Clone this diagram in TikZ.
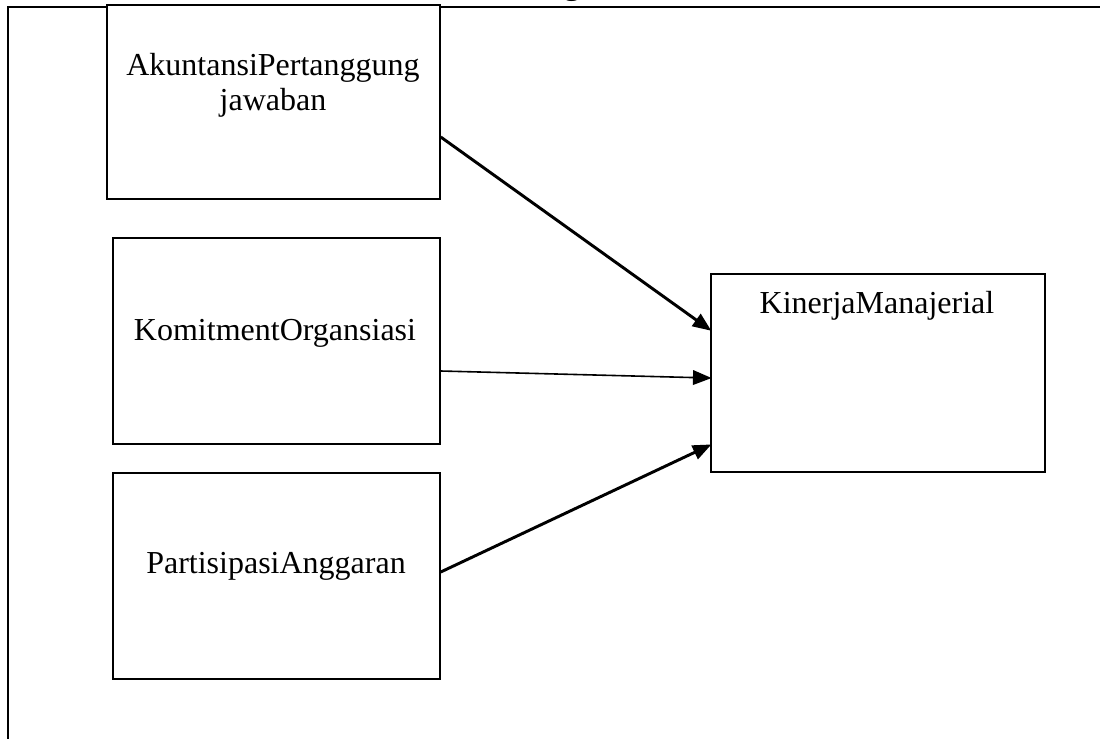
\documentclass[tikz,border=0pt]{standalone}
\usepackage{fontspec}
\setmainfont{Liberation Serif}
\usetikzlibrary{arrows.meta}
\tikzset{
  kotak/.style={draw, line width=1.1pt, minimum width=#1, inner sep=0pt},
  teks/.style={anchor=base, font=\fontsize{24pt}{28pt}\selectfont, inner sep=0pt},
  panah/.style={line width=2.2pt, -{Triangle[length=14pt, width=11pt]}, shorten >=-1pt}
}
\begin{document}
\begin{tikzpicture}[x=0.75pt, y=-0.75pt]
\useasboundingbox (0,0) rectangle (1100,739);
\draw[line width=1.2pt] (8,739) -- (8,7) -- (1100,7);
\node[teks, font=\fontsize{24pt}{28pt}\selectfont\bfseries] (judul) at (572,-5.5) {g};
\node[kotak=333*0.75pt, minimum height=194*0.75pt, fill=white] (akun) at (273.5,102) {};
\node[kotak=327*0.75pt, minimum height=206*0.75pt] (komit) at (276.5,341) {};
\node[kotak=327*0.75pt, minimum height=206*0.75pt] (parti) at (276.5,576) {};
\node[kotak=334*0.75pt, minimum height=198*0.75pt] (kiner) at (878,373) {};
\node[teks] (takun1) at (273,75) {AkuntansiPertanggung};
\node[teks] (takun2) at (273,110) {jawaban};
\node[teks] (tkomit) at (275,340) {KomitmentOrgansiasi};
\node[teks] (tparti) at (276,573) {PartisipasiAnggaran};
\node[teks] (tkiner) at (877,313) {KinerjaManajerial};
\draw[panah] (akun.east |- 0,137) -- (kiner.west |- 0,330);
\draw[panah, line width=1.2pt] (komit.east |- 0,371) -- (kiner.west |- 0,378);
\draw[panah] (parti.east |- 0,572) -- (kiner.west |- 0,445);
\end{tikzpicture}
\end{document}
